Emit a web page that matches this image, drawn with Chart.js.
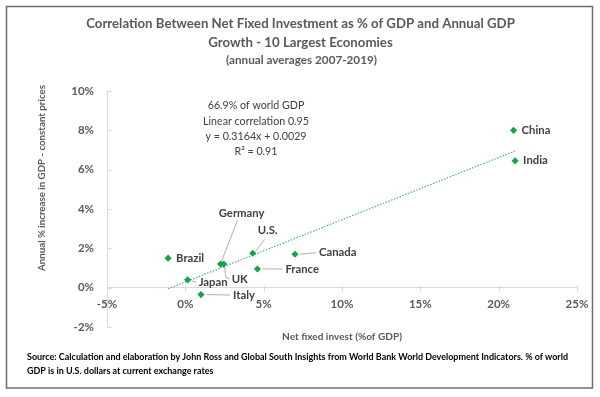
<!DOCTYPE html>
<html><head><meta charset="utf-8">
<script src="https://cdn.jsdelivr.net/npm/chart.js@4.4.1/dist/chart.umd.min.js"></script>
<style>html,body{margin:0;padding:0;background:#fff}#wrap{width:600px;height:397px;position:relative}</style>
</head><body><div id="wrap"><canvas id="c" width="600" height="397"></canvas></div>
<script>
// ---- data ----
const countries = ['China','India','Canada','France','U.S.','Germany','UK','Japan','Italy','Brazil'];
const netInvest = [20.95, 21.05, 7.0, 4.6, 4.3, 2.25, 2.45, 0.15, 1.0, -1.1];
const gdpGrowth = [8.0, 6.45, 1.7, 0.95, 1.75, 1.2, 1.2, 0.4, -0.35, 1.5];
const trendSlope = 0.3164;      // y = 0.3164x + 0.0029 (fractions) -> percent units
const trendIntercept = 0.29;
const xTickValues = [-5, 0, 5, 10, 15, 20, 25];
const yTickValues = [-2, 0, 2, 4, 6, 8, 10];
const titleLines = ['Correlation Between Net Fixed Investment as % of GDP and Annual GDP', 'Growth - 10 Largest Economies'];
const subtitleText = '(annual averages 2007-2019)';
const annotationLines = ['66.9% of world GDP', 'Linear correlation 0.95', 'y = 0.3164x + 0.0029', 'R\u00B2 = 0.91'];
const xAxisTitle = 'Net fixed invest (%of GDP)';
const yAxisTitle = 'Annual % increase in GDP - constant prices';
const sourceLines = ['Source: Calculation and elaboration by John Ross and Global South Insights from World Bank World Development Indicators. % of world', 'GDP is in U.S. dollars at current exchange rates'];

// ---- label placement styles (pixel offsets from each point) ----
const labelStyle = {
  'China':   {dx: 8,  dy: 0,   align: 'left'},
  'India':   {dx: 8,  dy: 0,   align: 'left'},
  'Brazil':  {dx: 8,  dy: 0,   align: 'left'},
  'Canada':  {dx: 24, dy: -1.5, align: 'left',   lead: [[5,0],[21,-1.5]]},
  'France':  {dx: 28, dy: 0.5, align: 'left',   lead: [[5,0],[25,0]]},
  'U.S.':    {dx: 15, dy: -23, align: 'center', lead: [[3,-2],[12,-14]]},
  'Germany': {dx: 21, dy: -51, align: 'center', lead: [[1,-3],[17,-44]]},
  'UK':      {dx: 8,  dy: 15,  align: 'left',   lead: [[1,3],[2,13],[6,15]]},
  'Japan':   {dx: 11, dy: 3,   align: 'left',   lead: [[4,1],[9,2.5]]},
  'Italy':   {dx: 32, dy: 0.5, align: 'left',   lead: [[6,0],[29,0.5]]}
};

const FONT = 'Lato, "Open Sans", sans-serif';
const GREY = '#595959';

const pts = countries.map((c, i) => ({x: netInvest[i], y: gdpGrowth[i]}));
const minX = Math.min(...netInvest), maxX = Math.max(...netInvest);
const trendPts = [minX, maxX].map(x => ({x: x, y: trendSlope * x + trendIntercept}));

// font size that makes a text span a given width (emulates the narrower original face)
function fitFont(ctx, text, weight, target) {
  ctx.font = weight + ' 100px ' + FONT;
  const w = ctx.measureText(text).width;
  return weight + ' ' + (100 * target / w).toFixed(2) + 'px ' + FONT;
}

const decorPlugin = {
  id: 'decor',
  beforeDraw(chart) {
    const ctx = chart.ctx;
    ctx.save();
    ctx.fillStyle = '#fff';
    ctx.fillRect(0, 0, chart.width, chart.height);
    ctx.restore();
  },
  afterDatasetsDraw(chart) {
    const ctx = chart.ctx;
    const xs = chart.scales.x, ys = chart.scales.y;
    ctx.save();
    ctx.strokeStyle = '#d9d9d9';
    ctx.lineWidth = 1;
    const y0 = Math.round(ys.getPixelForValue(0)) + 0.5;
    xTickValues.forEach(v => {
      const px = Math.round(xs.getPixelForValue(v)) + 0.5;
      ctx.beginPath(); ctx.moveTo(px, y0 - 3); ctx.lineTo(px, y0 + 3); ctx.stroke();
    });
    const xl = Math.round(xs.getPixelForValue(-5)) + 0.5;
    yTickValues.forEach(v => {
      const py = Math.round(ys.getPixelForValue(v)) + 0.5;
      ctx.beginPath(); ctx.moveTo(xl, py); ctx.lineTo(xl + 4, py); ctx.stroke();
    });
    const meta = chart.getDatasetMeta(0);
    ctx.font = 'bold 11.3px ' + FONT;
    ctx.textBaseline = 'middle';
    countries.forEach((c, i) => {
      const el = meta.data[i];
      const s = labelStyle[c];
      if (s.lead) {
        ctx.strokeStyle = '#a6a6a6';
        ctx.lineWidth = 0.9;
        ctx.beginPath();
        s.lead.forEach((p, k) => {
          const fx = el.x + p[0], fy = el.y + p[1];
          if (k === 0) ctx.moveTo(fx, fy); else ctx.lineTo(fx, fy);
        });
        ctx.stroke();
      }
      ctx.fillStyle = '#404040';
      ctx.textAlign = s.align;
      ctx.fillText(c, el.x + s.dx, el.y + s.dy);
    });
    ctx.restore();
  },
  afterDraw(chart) {
    const ctx = chart.ctx;
    const area = chart.chartArea;
    ctx.save();
    ctx.strokeStyle = '#6e6e6e';
    ctx.lineWidth = 1.5;
    ctx.strokeRect(6.5, 6.5, 586, 381.5);
    ctx.textBaseline = 'middle';
    ctx.textAlign = 'center';
    ctx.fillStyle = GREY;
    ctx.font = fitFont(ctx, titleLines[0], 'bold', 429);
    ctx.fillText(titleLines[0], 300.5, 24);
    ctx.fillText(titleLines[1], 300.5, 43);
    ctx.font = fitFont(ctx, subtitleText, 'bold', 151);
    ctx.fillText(subtitleText, 301.5, 60);
    ctx.fillStyle = '#404040';
    ctx.font = fitFont(ctx, annotationLines[1], 'normal', 106);
    annotationLines.forEach((t, i) => ctx.fillText(t, 256, 106 + i * 15.3));
    ctx.fillStyle = GREY;
    ctx.font = fitFont(ctx, xAxisTitle, 'bold', 120);
    ctx.fillText(xAxisTitle, (area.left + area.right) / 2, 337);
    ctx.save();
    ctx.translate(42, 178);
    ctx.rotate(-Math.PI / 2);
    ctx.font = fitFont(ctx, yAxisTitle, 'bold', 186);
    ctx.fillText(yAxisTitle, 0, 0);
    ctx.restore();
    ctx.fillStyle = '#000';
    ctx.textAlign = 'left';
    ctx.font = fitFont(ctx, sourceLines[0], 'bold', 541);
    ctx.fillText(sourceLines[0], 27, 357);
    ctx.fillText(sourceLines[1], 27, 371);
    ctx.restore();
  }
};

new Chart(document.getElementById('c'), {
  type: 'scatter',
  data: {
    datasets: [
      {label: 'Countries', data: pts, pointStyle: 'rectRot', pointRadius: 3.6, pointHoverRadius: 3.6,
       backgroundColor: '#16a34a', borderColor: '#16a34a', borderWidth: 0, order: 0},
      {label: 'Trend', type: 'line', data: trendPts, showLine: true, borderColor: '#5b9bd5', borderWidth: 1.2,
       borderDash: [1.5, 1.5], pointRadius: 0, fill: false, order: 1}
    ]
  },
  options: {
    responsive: false,
    devicePixelRatio: 1,
    animation: false,
    events: [],
    layout: {padding: {left: 0, right: 23, top: 91, bottom: 70}},
    plugins: {legend: {display: false}, tooltip: {enabled: false}, title: {display: false}},
    scales: {
      x: {
        type: 'linear', min: -5, max: 25, position: {y: 0},
        afterBuildTicks: s => { s.ticks = xTickValues.map(v => ({value: v})); },
        ticks: {callback: v => v + '%', color: GREY, font: {family: FONT, size: 11.5, weight: 'bold'}, padding: 10, maxRotation: 0},
        grid: {display: false, drawTicks: false},
        border: {display: true, color: '#d9d9d9', width: 1}
      },
      y: {
        type: 'linear', min: -2, max: 10, position: 'left',
        afterBuildTicks: s => { s.ticks = yTickValues.map(v => ({value: v})); },
        afterFit: s => { s.width = 107; },
        ticks: {callback: v => v + '%', color: GREY, font: {family: FONT, size: 11.5, weight: 'bold'}, padding: 13},
        grid: {display: false, drawTicks: false},
        border: {display: true, color: '#d9d9d9', width: 1}
      }
    }
  },
  plugins: [decorPlugin]
});
</script>
</body></html>
